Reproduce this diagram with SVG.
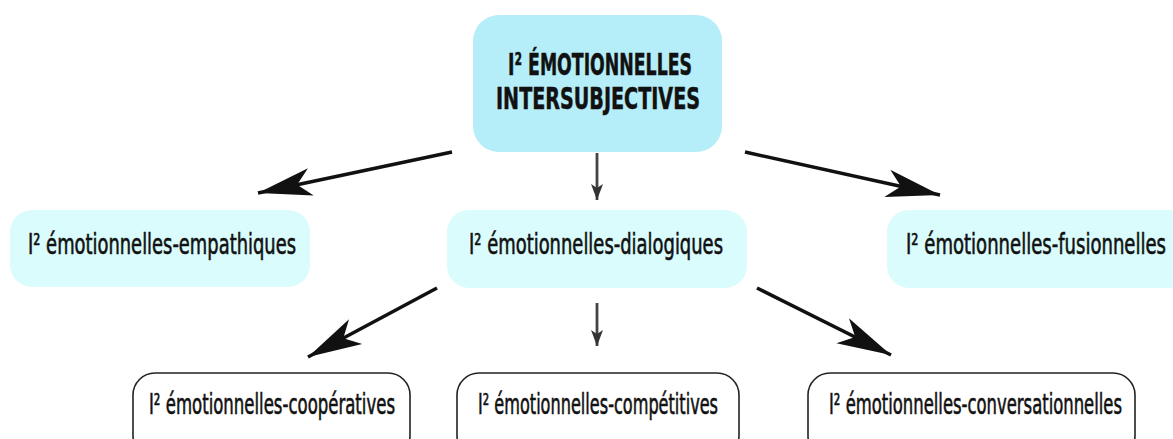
<svg xmlns="http://www.w3.org/2000/svg" width="1173" height="439" viewBox="0 0 1173 439">
<defs>
<style>
.lbl{font-family:"Liberation Sans Narrow","DejaVu Sans Condensed","Liberation Sans",sans-serif;font-size:28px;fill:#111;stroke:#111;stroke-width:0.6;}
.ttl{font-family:"Liberation Sans Narrow","DejaVu Sans Condensed","Liberation Sans",sans-serif;font-size:31px;font-weight:bold;fill:#111;stroke:#111;stroke-width:0.5;}
.top{fill:#b5edf8;}
.mid{fill:#dafcfc;}
.bot{fill:#fff;stroke:#222;stroke-width:1.6;}
.big{stroke:#111;stroke-width:3.5;fill:none;marker-end:url(#bigHead);}
.small{stroke:#444;stroke-width:2.8;fill:none;marker-end:url(#smallHead);}
</style>
<marker id="bigHead" markerUnits="userSpaceOnUse" markerWidth="56" markerHeight="32" refX="54" refY="16" orient="auto" viewBox="0 0 56 32">
<path d="M54,16 L0,2 L14,16 L0,30 Z" fill="#111"/>
</marker>
<marker id="smallHead" markerUnits="userSpaceOnUse" markerWidth="16" markerHeight="12" refX="16" refY="6" orient="auto" viewBox="0 0 16 12">
<path d="M16,6 L0,0 L4,6 L0,12 Z" fill="#333"/>
</marker>
</defs>
<rect width="1173" height="439" fill="#fff"/>
<g id="connectors">
<line class="big" x1="452" y1="152" x2="258" y2="193"/>
<line class="big" x1="745" y1="152" x2="940" y2="195"/>
<line class="small" x1="597" y1="153" x2="597" y2="200"/>
<line class="big" x1="437" y1="288" x2="308" y2="357"/>
<line class="big" x1="757" y1="288" x2="891" y2="355"/>
<line class="small" x1="597" y1="303" x2="597" y2="346"/>
</g>
<g id="node-root">
<rect class="top" x="473" y="15" width="249" height="137" rx="26"/>
<text class="ttl" x="508" y="75" textLength="184" lengthAdjust="spacingAndGlyphs">I² ÉMOTIONNELLES</text>
<text class="ttl" x="496" y="109" textLength="204" lengthAdjust="spacingAndGlyphs">INTERSUBJECTIVES</text>
</g>
<g id="node-empathiques">
<rect class="mid" x="10" y="210" width="300" height="77" rx="22"/>
<text class="lbl" x="28" y="254" textLength="268" lengthAdjust="spacingAndGlyphs">I² émotionnelles-empathiques</text>
</g>
<g id="node-dialogiques">
<rect class="mid" x="447" y="210" width="300" height="78" rx="22"/>
<text class="lbl" x="469" y="254" textLength="254" lengthAdjust="spacingAndGlyphs">I² émotionnelles-dialogiques</text>
</g>
<g id="node-fusionnelles">
<rect class="mid" x="887" y="210" width="310" height="78" rx="22"/>
<text class="lbl" x="906" y="254" textLength="260" lengthAdjust="spacingAndGlyphs">I² émotionnelles-fusionnelles</text>
</g>
<g id="node-cooperatives">
<rect class="bot" x="133" y="373" width="277" height="85" rx="22"/>
<text class="lbl" x="149" y="414" textLength="246" lengthAdjust="spacingAndGlyphs">I² émotionnelles-coopératives</text>
</g>
<g id="node-competitives">
<rect class="bot" x="457" y="373" width="282" height="85" rx="22"/>
<text class="lbl" x="478" y="414" textLength="240" lengthAdjust="spacingAndGlyphs">I² émotionnelles-compétitives</text>
</g>
<g id="node-conversationnelles">
<rect class="bot" x="808" y="373" width="327" height="85" rx="22"/>
<text class="lbl" x="829" y="414" textLength="293" lengthAdjust="spacingAndGlyphs">I² émotionnelles-conversationnelles</text>
</g>
</svg>
